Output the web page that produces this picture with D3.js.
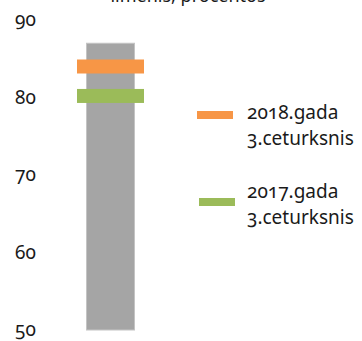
<!DOCTYPE html>
<html><head><meta charset="utf-8">
<script src="https://cdn.jsdelivr.net/npm/d3@7"></script>
<style>
body{margin:0;background:#fff;}
svg text{font-family:"Noto Sans","Open Sans",sans-serif;fill:#1a1a1a;font-variant-numeric:oldstyle-nums;font-feature-settings:"onum" 1;}
</style></head>
<body><svg id="c" width="362" height="341"></svg>
<script>
const titleText = "līmenis, procentos";
const yTicks = [50, 60, 70, 80, 90];
const barLow = 50, barHigh = 87;
const seriesNames = [["2018.gada", "3.ceturksnis"], ["2017.gada", "3.ceturksnis"]];
const seriesValues = [84, 80.2];
const seriesColors = ["#f79646", "#9bbb59"];

const svg = d3.select("#c");
const y = d3.scaleLinear().domain([50, 90]).range([330, 20]);
const x = d3.scaleBand().domain(["bar"]).range([61.5, 159.5]).paddingInner(0).paddingOuter(0.5);

svg.append("text").attr("x", 188).attr("y", 2).attr("text-anchor", "middle")
  .style("font-size", "18px").text(titleText);

// axis labels
svg.append("g").selectAll("text").data(yTicks).join("text")
  .attr("x", 15).attr("y", d => y(d) + 6)
  .style("font-size", "19px")
  .text(d => d);

// range bar
svg.append("rect")
  .attr("x", x("bar") + 0.5).attr("width", x.bandwidth() - 1)
  .attr("y", y(barHigh)).attr("height", y(barLow) - y(barHigh))
  .attr("fill", "#a5a5a5").attr("stroke", "#c4c4c4").attr("stroke-width", 1);

// markers
const mw = 67;
svg.append("g").selectAll("rect").data(seriesValues).join("rect")
  .attr("x", x("bar") + x.bandwidth() / 2 - mw / 2)
  .attr("width", mw)
  .attr("y", d => y(d) - 7).attr("height", 14)
  .attr("fill", (d, i) => seriesColors[i]);

// legend
const legY = [115, 202];
const lg = svg.append("g").selectAll("g").data(seriesNames).join("g")
  .attr("transform", (d, i) => `translate(0,${legY[i]})`);
lg.append("rect").attr("x", (d, i) => i === 0 ? 197 : 199).attr("y", -4)
  .attr("width", 36).attr("height", 8)
  .attr("fill", (d, i) => seriesColors[i]);
lg.append("text").attr("x", 247).attr("y", (d, i) => i === 0 ? 4 : -4)
  .style("font-size", "19px")
  .selectAll("tspan").data(d => d).join("tspan")
  .attr("x", 247).attr("dy", (d, j) => j === 0 ? 0 : 26)
  .text(d => d);
</script></body></html>
